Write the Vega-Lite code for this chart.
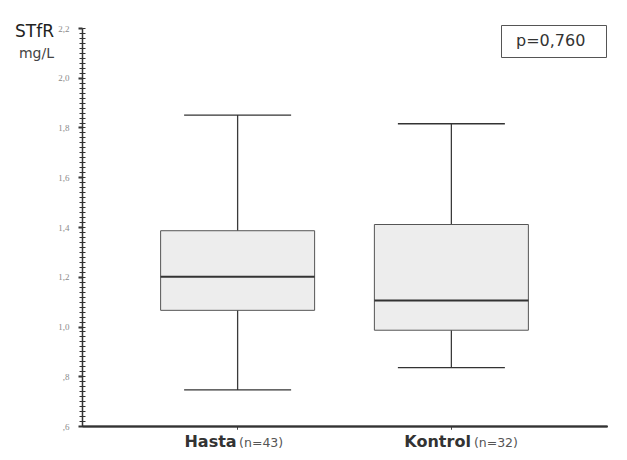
{
  "$schema": "https://vega.github.io/schema/vega-lite/v6.json",
  "width": 525,
  "height": 398,
  "autosize": {"type": "none"},
  "padding": {"left": 82, "top": 28, "right": 20, "bottom": 34},
  "background": "white",
  "title": {
    "text": "STfR",
    "subtitle": "mg/L",
    "anchor": "start",
    "frame": "group",
    "align": "right",
    "dx": -28,
    "dy": 38,
    "font": "DejaVu Sans",
    "fontSize": 17,
    "fontWeight": "normal",
    "color": "#222",
    "subtitleFont": "DejaVu Sans",
    "subtitleFontSize": 14,
    "subtitleColor": "#444",
    "subtitlePadding": 6,
    "offset": 0
  },
  "data": {
    "values": [
      {"group": "Hasta", "lower": 0.745, "q1": 1.065, "median": 1.2, "q3": 1.385, "upper": 1.85, "p": "p=0,760"},
      {"group": "Kontrol", "lower": 0.835, "q1": 0.985, "median": 1.105, "q3": 1.41, "upper": 1.815, "p": "p=0,760"}
    ]
  },
  "layer": [
    {
      "mark": {"type": "rule", "color": "#3a3a3a", "strokeWidth": 1.3},
      "encoding": {
        "x": {
          "field": "group", "type": "nominal", "sort": null,
          "scale": {"paddingInner": 0.3, "paddingOuter": 0.378},
          "axis": {
            "orient": "bottom", "title": null, "labelAngle": 0, "values": ["Hasta"],
            "labelAlign": "right", "labelOffset": -1, "labelBaseline": "alphabetic",
            "labelPadding": 17, "tickSize": 3, "tickColor": "#444",
            "domainColor": "#333", "domainWidth": 1.5,
            "labelFont": "DejaVu Sans", "labelFontWeight": "bold", "labelFontSize": 16, "labelColor": "#333"
          }
        },
        "y": {
          "field": "lower", "type": "quantitative", "title": null,
          "scale": {"domain": [0.6, 2.2], "nice": false, "zero": false},
          "axis": {
            "orient": "left",
            "values": [0.6,0.62,0.64,0.66,0.68,0.7,0.72,0.74,0.76,0.78,0.8,0.82,0.84,0.86,0.88,0.9,0.92,0.94,0.96,0.98,1,1.02,1.04,1.06,1.08,1.1,1.12,1.14,1.16,1.18,1.2,1.22,1.24,1.26,1.28,1.3,1.32,1.34,1.36,1.38,1.4,1.42,1.44,1.46,1.48,1.5,1.52,1.54,1.56,1.58,1.6,1.62,1.64,1.66,1.68,1.7,1.72,1.74,1.76,1.78,1.8,1.82,1.84,1.86,1.88,1.9,1.92,1.94,1.96,1.98,2,2.02,2.04,2.06,2.08,2.1,2.12,2.14,2.16,2.18,2.2],
            "tickCount": 500,
            "labels": false,
            "grid": false,
            "domainColor": "#333",
            "domainWidth": 1.5,
            "tickColor": "#333",
            "tickSize": 3,
            "tickWidth": 1
          }
        },
        "y2": {"field": "upper"}
      }
    },
    {
      "mark": {"type": "bar", "width": 154, "fill": "#ededed", "stroke": "#555", "strokeWidth": 1},
      "encoding": {
        "x": {
          "field": "group", "type": "nominal", "sort": null,
          "axis": {
            "orient": "bottom", "title": null, "labelAngle": 0, "values": ["Kontrol"],
            "labelAlign": "right", "labelOffset": 19.5, "labelBaseline": "alphabetic",
            "labelPadding": 17, "tickSize": 3, "tickColor": "#444",
            "domainColor": "#333", "domainWidth": 1.5,
            "labelFont": "DejaVu Sans", "labelFontWeight": "bold", "labelFontSize": 16, "labelColor": "#333"
          }
        },
        "y": {
          "field": "q1", "type": "quantitative", "title": null,
          "axis": {
            "orient": "left",
            "values": [0.6, 0.8, 1.0, 1.2, 1.4, 1.6, 1.8, 2.0, 2.2],
            "tickCount": 500,
            "labelExpr": "datum.value < 0.99 ? replace(format(datum.value, '.1f'), '0.', ',') : replace(format(datum.value, '.1f'), '.', ',')",
            "labelOverlap": false,
            "labelFlush": false,
            "grid": false,
            "domain": false,
            "tickColor": "#333",
            "tickSize": 4,
            "tickWidth": 2,
            "labelPadding": 9,
            "labelFont": "Liberation Serif",
            "labelFontSize": 9,
            "labelColor": "#8a8a8a"
          }
        },
        "y2": {"field": "q3"}
      }
    },
    {
      "mark": {"type": "tick", "size": 154, "thickness": 2, "color": "#333", "opacity": 1},
      "encoding": {
        "x": {
          "field": "group", "type": "nominal", "sort": null,
          "axis": {
            "orient": "bottom", "title": null, "labelAngle": 0, "values": ["Hasta"],
            "labelExpr": "'(n=43)'",
            "labelAlign": "left", "labelOffset": 1.5, "labelBaseline": "alphabetic",
            "labelPadding": 17, "tickSize": 3, "tickColor": "#444",
            "domainColor": "#333", "domainWidth": 1.5,
            "labelFont": "DejaVu Sans", "labelFontSize": 12.5, "labelColor": "#555"
          }
        },
        "y": {
          "field": "median", "type": "quantitative", "title": null,
          "axis": {
            "orient": "left",
            "values": [0.6,0.62,0.64,0.66,0.68,0.7,0.72,0.74,0.76,0.78,0.8,0.82,0.84,0.86,0.88,0.9,0.92,0.94,0.96,0.98,1,1.02,1.04,1.06,1.08,1.1,1.12,1.14,1.16,1.18,1.2,1.22,1.24,1.26,1.28,1.3,1.32,1.34,1.36,1.38,1.4,1.42,1.44,1.46,1.48,1.5,1.52,1.54,1.56,1.58,1.6,1.62,1.64,1.66,1.68,1.7,1.72,1.74,1.76,1.78,1.8,1.82,1.84,1.86,1.88,1.9,1.92,1.94,1.96,1.98,2,2.02,2.04,2.06,2.08,2.1,2.12,2.14,2.16,2.18,2.2],
            "tickCount": 500,
            "labels": false,
            "grid": false,
            "domain": false,
            "tickColor": "#333",
            "tickSize": -3,
            "tickWidth": 1
          }
        }
      }
    },
    {
      "mark": {"type": "tick", "size": 107, "thickness": 1.3, "color": "#333", "opacity": 1},
      "encoding": {
        "x": {"field": "group", "type": "nominal", "sort": null, "axis": null},
        "y": {"field": "lower", "type": "quantitative", "title": null, "axis": null}
      }
    },
    {
      "mark": {"type": "tick", "size": 107, "thickness": 1.3, "color": "#333", "opacity": 1},
      "encoding": {
        "x": {"field": "group", "type": "nominal", "sort": null, "axis": null},
        "y": {"field": "upper", "type": "quantitative", "title": null, "axis": null}
      }
    },
    {
      "mark": {"type": "point", "opacity": 0},
      "encoding": {
        "x": {
          "field": "group", "type": "nominal", "sort": null,
          "axis": {
            "orient": "bottom", "title": null, "labelAngle": 0, "values": ["Kontrol"],
            "labelExpr": "'(n=32)'",
            "labelAlign": "left", "labelOffset": 22.5, "labelBaseline": "alphabetic",
            "labelPadding": 17, "tickSize": 3, "tickColor": "#444",
            "domainColor": "#333", "domainWidth": 1.5,
            "labelFont": "DejaVu Sans", "labelFontSize": 12.5, "labelColor": "#555"
          }
        },
        "y": {"field": "median", "type": "quantitative", "title": null, "axis": null},
        "color": {
          "field": "p", "type": "nominal",
          "scale": {"range": ["#333"]},
          "legend": {
            "orient": "none", "legendX": 419, "legendY": -3,
            "title": null, "strokeColor": "#555",
            "padding": 8, "symbolSize": 0, "symbolOpacity": 0, "symbolStrokeWidth": 0,
            "labelExpr": "datum.label + '\u2800'",
            "labelOffset": -9, "labelFont": "DejaVu Sans", "labelFontSize": 16, "labelColor": "#333"
          }
        }
      }
    }
  ],
  "resolve": {"axis": {"x": "independent", "y": "independent"}},
  "config": {"view": {"stroke": null}}
}
